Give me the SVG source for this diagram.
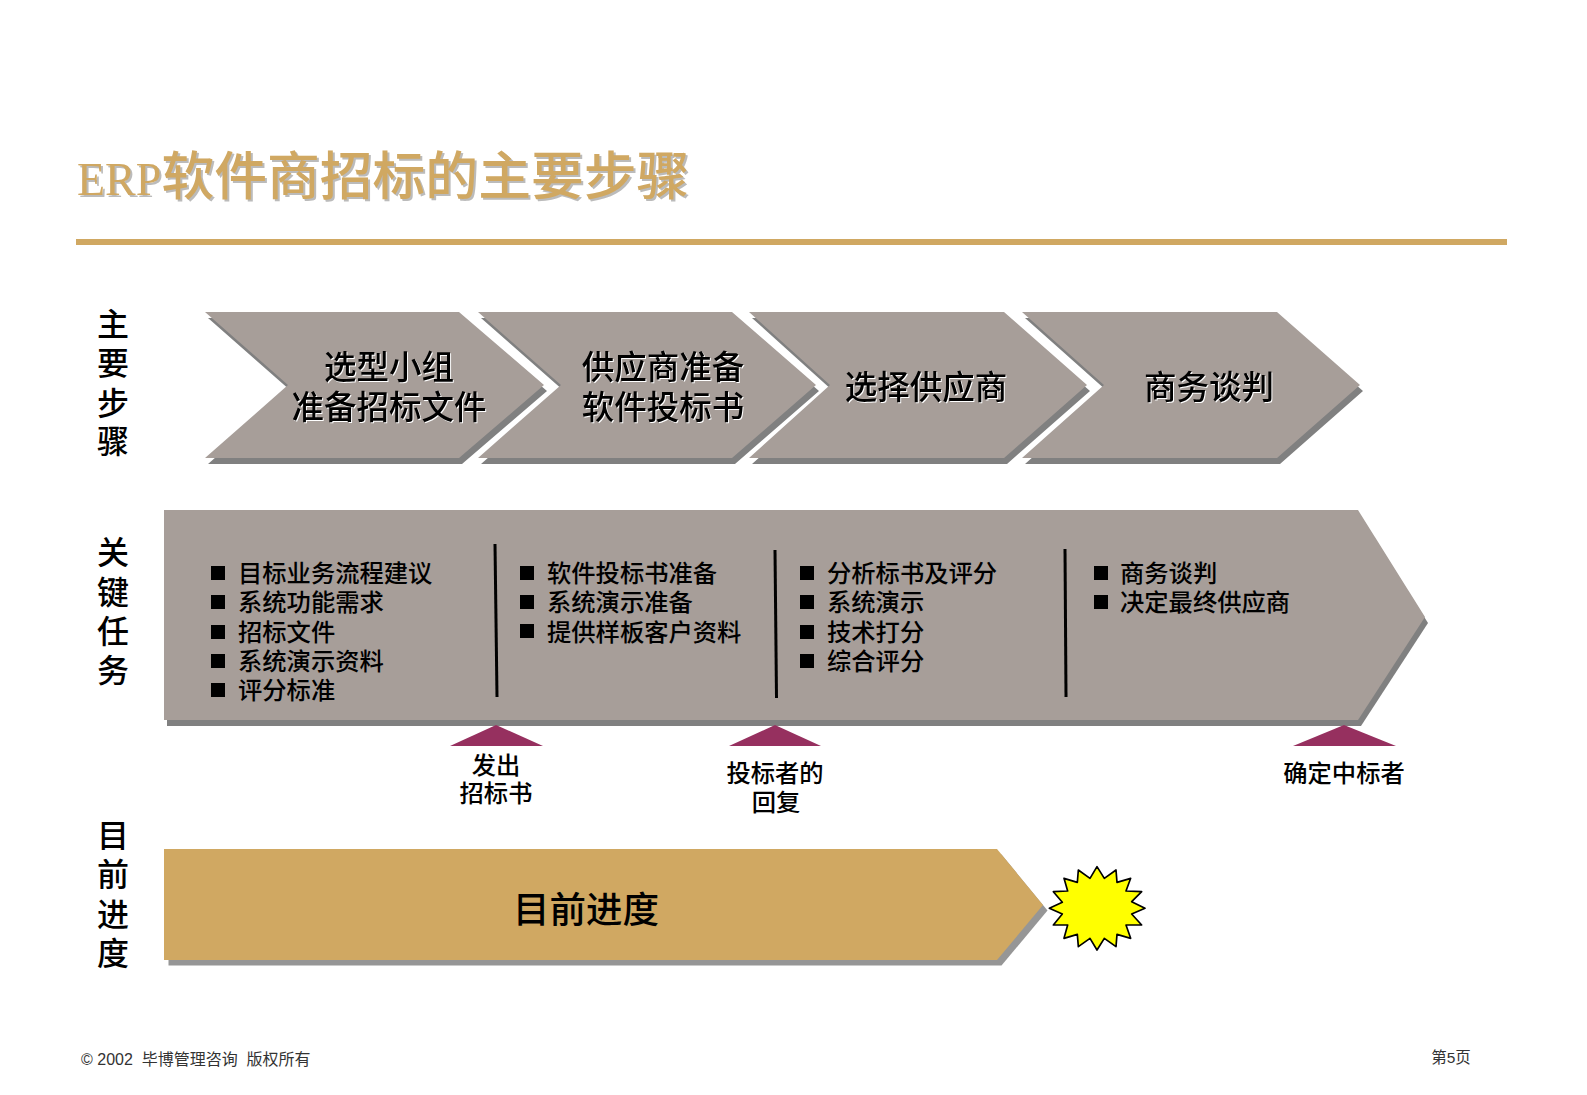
<svg xmlns="http://www.w3.org/2000/svg" width="1587" height="1095" viewBox="0 0 1587 1095">
<style>
text{font-family:"Liberation Serif","Noto Sans CJK SC",serif;fill:#000;font-weight:500}
.shadow{fill:#808080}
.shadow2{fill:#969696}
.grey{fill:#A79E99}
.gold{fill:#D0A862}
.mile{fill:#96305F}
.bul{fill:#000}
.side{font-size:32px;text-anchor:middle}
.step{font-size:32.5px;text-anchor:middle;filter:drop-shadow(1.5px 1.5px 0 #fff)}
.task{font-size:24.3px}
.ms{font-size:24.3px;text-anchor:middle}
.div{stroke:#000;stroke-width:3;fill:none}
.foot{font-size:16px;fill:#333;font-weight:400;font-family:"Liberation Sans","Noto Sans CJK SC",sans-serif;white-space:pre}
</style>
<rect width="1587" height="1095" fill="#fff"/>
<g id="title">
<text x="77" y="195" font-size="52.8" style="fill:#D0A862;filter:drop-shadow(2px 2px 0 #bbb)"><tspan font-size="46" style="font-family:'Liberation Serif',serif">ERP</tspan>软件商招标的主要步骤</text>
<rect x="76" y="239" width="1431" height="6" class="gold"/>
</g>
<g id="label-steps"><text class="side"><tspan x="113" y="336">主</tspan><tspan x="113" y="375">要</tspan><tspan x="113" y="415">步</tspan><tspan x="113" y="453">骤</tspan></text></g>
<g id="label-tasks"><text class="side"><tspan x="113" y="564">关</tspan><tspan x="113" y="604">键</tspan><tspan x="113" y="643">任</tspan><tspan x="113" y="682">务</tspan></text></g>
<g id="label-progress"><text class="side"><tspan x="113" y="847">目</tspan><tspan x="113" y="886">前</tspan><tspan x="113" y="926">进</tspan><tspan x="113" y="965">度</tspan></text></g>
<g id="step-1">
<polygon class="shadow" transform="translate(3 6)" points="205,312 459,312 544,385 459,458 205,458 288,385"/>
<polygon class="grey" points="205,312 459,312 544,385 459,458 205,458 288,385"/>
<text class="step"><tspan x="389" y="379">选型小组</tspan><tspan x="389" y="419">准备招标文件</tspan></text>
</g>
<g id="step-2">
<polygon class="shadow" transform="translate(3 6)" points="478,312 732,312 816,385 732,458 478,458 561,385"/>
<polygon class="grey" points="478,312 732,312 816,385 732,458 478,458 561,385"/>
<text class="step"><tspan x="663" y="379">供应商准备</tspan><tspan x="663" y="419">软件投标书</tspan></text>
</g>
<g id="step-3">
<polygon class="shadow" transform="translate(3 6)" points="749,312 1004,312 1087,385 1004,458 749,458 830,385"/>
<polygon class="grey" points="749,312 1004,312 1087,385 1004,458 749,458 830,385"/>
<text class="step" x="926" y="399">选择供应商</text>
</g>
<g id="step-4">
<polygon class="shadow" transform="translate(3 6)" points="1022,312 1277,312 1360,385 1277,458 1022,458 1104,385"/>
<polygon class="grey" points="1022,312 1277,312 1360,385 1277,458 1022,458 1104,385"/>
<text class="step" x="1209" y="399">商务谈判</text>
</g>
<g id="tasks">
<polygon class="shadow" transform="translate(3 6)" points="164,510 1358,510 1425,617 1358,720 164,720"/>
<polygon class="grey" points="164,510 1358,510 1425,617 1358,720 164,720"/>
<g class="bul">
<rect x="211" y="566" width="14" height="14"/><rect x="211" y="595" width="14" height="14"/><rect x="211" y="625" width="14" height="14"/><rect x="211" y="654" width="14" height="14"/><rect x="211" y="683" width="14" height="14"/>
<rect x="520" y="566" width="14" height="14"/><rect x="520" y="595" width="14" height="14"/><rect x="520" y="624" width="14" height="14"/>
<rect x="800" y="566" width="14" height="14"/><rect x="800" y="595" width="14" height="14"/><rect x="800" y="625" width="14" height="14"/><rect x="800" y="654" width="14" height="14"/>
<rect x="1094" y="566" width="14" height="14"/><rect x="1094" y="595" width="14" height="14"/>
</g>
<text class="task"><tspan x="238" y="582">目标业务流程建议</tspan><tspan x="238" y="611">系统功能需求</tspan><tspan x="238" y="641">招标文件</tspan><tspan x="238" y="670">系统演示资料</tspan><tspan x="238" y="699">评分标准</tspan></text>
<text class="task"><tspan x="547" y="582">软件投标书准备</tspan><tspan x="547" y="611">系统演示准备</tspan><tspan x="547" y="641">提供样板客户资料</tspan></text>
<text class="task"><tspan x="827" y="582">分析标书及评分</tspan><tspan x="827" y="611">系统演示</tspan><tspan x="827" y="641">技术打分</tspan><tspan x="827" y="670">综合评分</tspan></text>
<text class="task"><tspan x="1120" y="582">商务谈判</tspan><tspan x="1120" y="611">决定最终供应商</tspan></text>
</g>
<g id="connectors">
<line class="div" x1="495" y1="544" x2="497" y2="697"/>
<line class="div" x1="775" y1="550" x2="776.5" y2="698"/>
<line class="div" x1="1065" y1="549" x2="1066" y2="697"/>
</g>
<g id="milestone-1">
<polygon class="mile" points="450,746 496,725 543,746"/>
<text class="ms"><tspan x="496" y="774">发出</tspan><tspan x="496" y="802">招标书</tspan></text>
</g>
<g id="milestone-2">
<polygon class="mile" points="729,746 775,725 821,746"/>
<text class="ms"><tspan x="775" y="782">投标者的</tspan><tspan x="776" y="811">回复</tspan></text>
</g>
<g id="milestone-3">
<polygon class="mile" points="1293,746 1344,725 1396,746"/>
<text class="ms" x="1344" y="782">确定中标者</text>
</g>
<g id="progress">
<polygon class="shadow2" transform="translate(4.5 5.5)" points="164,849 997,849 1043,905 997,960 164,960"/>
<polygon class="gold" points="164,849 997,849 1043,905 997,960 164,960"/>
<text x="586" y="923" font-size="36.5" text-anchor="middle">目前进度</text>
</g>
<g id="star">
<polygon transform="translate(960 830) scale(.33333)" fill="#FFFF00" stroke="#000" stroke-width="5" stroke-linejoin="round" points="411,110 433,145 468,120 471,157 512,145 498,183 545,185 515,215 555,235 515,252 545,285 498,285 512,325 471,313 468,350 433,325 411,360 390,325 355,350 352,313 312,325 323,285 280,285 307,252 268,235 307,217 280,185 323,183 312,145 352,157 355,120 390,145"/>
</g>
<g id="footer">
<text class="foot" x="81" y="1065">© 2002  毕博管理咨询  版权所有</text>
<text class="foot" x="1451" y="1063" text-anchor="middle" style="font-size:15.5px">第5页</text>
</g>
</svg>
